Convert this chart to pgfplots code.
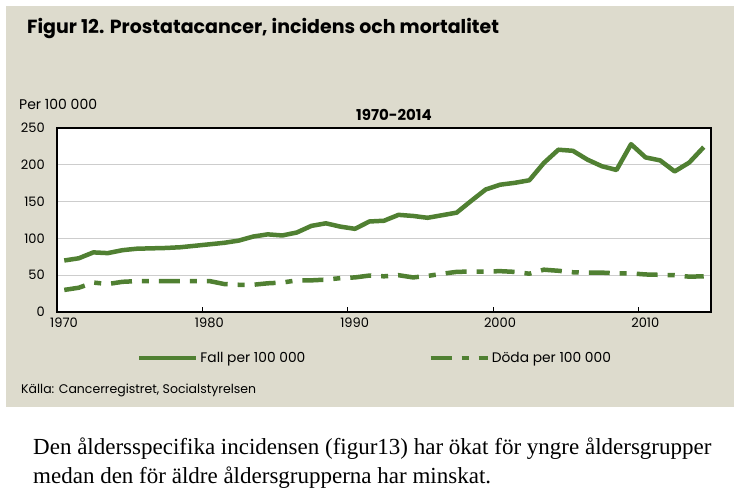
\documentclass[border=0pt]{standalone}
\usepackage{fontspec}
\setmainfont{Poppins}
\newfontfamily\serifp{Liberation Serif}
\usepackage{pgfplots}
\usepackage{pgfplotstable}
\pgfplotsset{compat=1.18}
\definecolor{beige}{RGB}{221,219,205}
\definecolor{lgreen}{RGB}{80,128,50}
\definecolor{gridc}{RGB}{205,205,205}

\pgfplotstableread{
year fall
1970 70
1971 73
1972 81
1973 80
1974 84
1975 86
1976 86.5
1977 87
1978 88
1979 90
1980 92
1981 94
1982 97
1983 102.5
1984 105.5
1985 104
1986 108
1987 117
1988 120.5
1989 116
1990 113
1991 123
1992 124
1993 132
1994 130.5
1995 128
1996 131.5
1997 135
1998 151
1999 166.5
2000 173
2001 175.5
2002 179
2003 202.5
2004 220.5
2005 219
2006 207
2007 198
2008 193
2009 228
2010 210
2011 206
2012 191
2013 203
2014 224
}\fall

\pgfplotstableread{
year doda
1970 30
1971 33
1972 40
1973 38
1974 41
1975 42
1976 42
1977 42
1978 42
1979 42
1980 42
1981 38
1982 37
1983 37
1984 39
1985 40
1986 43
1987 43
1988 44
1989 46
1990 47
1991 49.5
1992 48.5
1993 50
1994 47
1995 49
1996 52
1997 54.5
1998 55
1999 55
2000 55.5
2001 54.5
2002 52
2003 57.5
2004 56
2005 54
2006 53.5
2007 53.5
2008 52.5
2009 52.5
2010 51
2011 50.5
2012 50
2013 48
2014 48.5
}\doda

\begin{document}
\begin{tikzpicture}
\fill[white] (0pt,0pt) rectangle (742pt,-495pt);
\fill[beige] (6pt,-6pt) rectangle (734pt,-407pt);
\node[anchor=base west, inner sep=0pt, font=\fontsize{19}{22}\selectfont\bfseries] at (27pt,-34pt) {Figur 12. Prostatacancer, incidens och mortalitet};
\node[anchor=base west, inner sep=0pt, font=\fontsize{14}{16}\selectfont] at (19pt,-110pt) {Per 100 000};
\node[anchor=base, inner sep=0pt, font=\fontsize{15}{17}\selectfont\bfseries] at (394pt,-121pt) {1970-2014};
\begin{axis}[
  at={(57pt,-312pt)}, anchor=south west,
  scale only axis, width=654pt, height=184pt,
  xmin=1969.5, xmax=2014.5, ymin=0, ymax=250,
  axis background/.style={fill=white},
  axis line style={black, line width=1.2pt},
  xtick={1969.5,1979.5,1989.5,1999.5,2009.5},
  xticklabels={1970,1980,1990,2000,2010},
  xticklabel style={inner sep=0pt, anchor=north, yshift=-6pt, xshift=7pt},
  tick align=inside, xtick pos=bottom, major tick length=5pt,
  x tick style={black, line width=1pt},
  ytick={0,50,100,150,200,250}, ytick pos=left,
  y tick style={draw=none},
  yticklabel style={inner sep=0pt, anchor=east, xshift=-12pt},
  ymajorgrids, major grid style={gridc, line width=0.8pt},
  tick label style={font=\fontsize{13}{15}\selectfont},
  /pgf/number format/assume math mode=true,
  legend columns=2,
  legend style={at={(axis description cs:0.122,-0.25)}, anchor=west, draw=none, fill=none, inner sep=0pt,
    font=\fontsize{13.8}{16}\selectfont,
    /tikz/every even column/.append style={column sep=121pt}},
  legend cell align=left,
  legend image code/.code={\draw[#1] (0pt,0pt) -- (57pt,0pt);},
]
\addplot[lgreen, line width=4.5pt, line join=round] table[x=year, y=fall] {\fall};
\addlegendentry{Fall per 100 000}
\addplot[lgreen, line width=4.5pt, line join=round, dash pattern=on 21pt off 10pt on 7pt off 10pt] table[x=year, y=doda] {\doda};
\addlegendentry{Döda per 100 000}
\end{axis}
\node[anchor=base west, inner sep=0pt, font=\fontsize{12.5}{15}\selectfont] at (21pt,-393pt) {Källa: Cancerregistret, Socialstyrelsen};
\node[anchor=base west, inner sep=0pt, font=\serifp\fontsize{23}{27}\selectfont] at (33pt,-454pt) {Den åldersspecifika incidensen (figur13) har ökat för yngre åldersgrupper};
\node[anchor=base west, inner sep=0pt, font=\serifp\fontsize{23}{27}\selectfont] at (33pt,-483pt) {medan den för äldre åldersgrupperna har minskat.};
\end{tikzpicture}
\end{document}
